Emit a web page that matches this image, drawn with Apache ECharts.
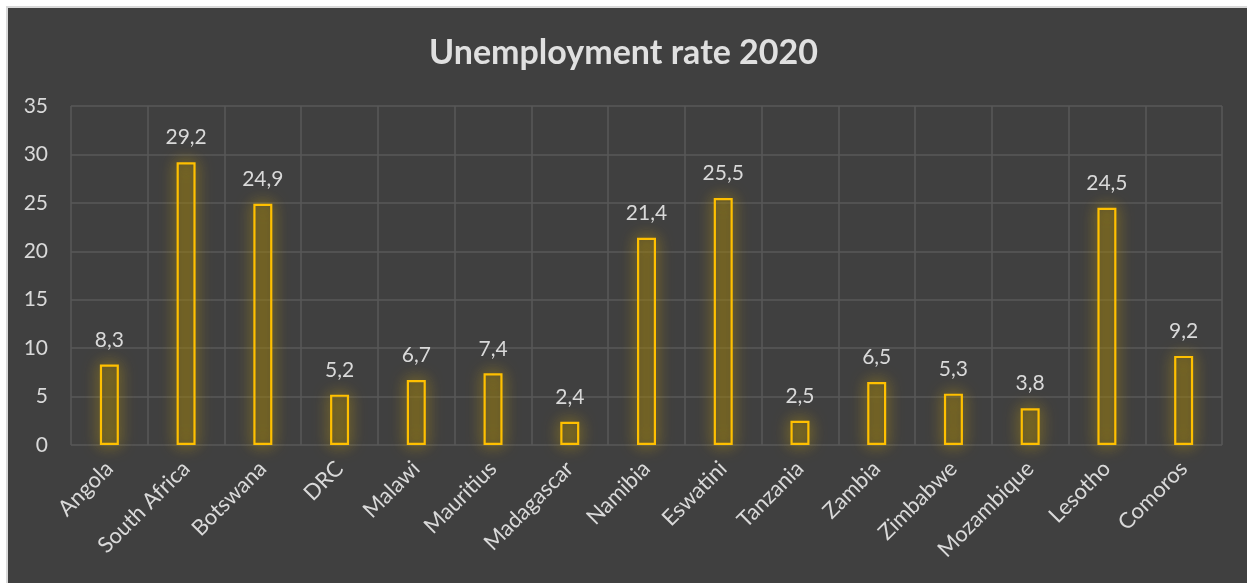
<!DOCTYPE html>
<html>
<head>
<meta charset="utf-8">
<script src="https://cdn.jsdelivr.net/npm/echarts@6/dist/echarts.min.js"></script>
<style>
html,body{margin:0;padding:0;background:#ffffff;}
#c{width:1247px;height:583px;}
</style>
</head>
<body>
<div id="c"></div>
<script>
const categories = ['Angola','South Africa','Botswana','DRC','Malawi','Mauritius','Madagascar','Namibia','Eswatini','Tanzania','Zambia','Zimbabwe','Mozambique','Lesotho','Comoros'];
const unemployment = [8.3, 29.2, 24.9, 5.2, 6.7, 7.4, 2.4, 21.4, 25.5, 2.5, 6.5, 5.3, 3.8, 24.5, 9.2];
const titleText = 'Unemployment rate 2020';

const chart = echarts.init(document.getElementById('c'), null, {renderer:'canvas'});
const font = 'Lato, "Open Sans", sans-serif';
chart.setOption({
  backgroundColor: 'transparent',
  animation: false,
  graphic: [{
    type: 'rect', z: -10, silent: true,
    shape: {x: 7, y: 7, width: 1260, height: 600},
    style: {fill: '#404040', stroke: '#d9d9d9', lineWidth: 2}
  }],
  title: {
    text: titleText, left: 'center', top: 31,
    textStyle: {color: '#e0e0e0', fontSize: 34, fontWeight: 'bold', fontFamily: font}
  },
  grid: {left: 71, right: 25, top: 106, bottom: 138},
  xAxis: {
    type: 'category', data: categories,
    axisLine: {show: false}, axisTick: {show: false},
    splitLine: {show: true, lineStyle: {color: '#595959', width: 1.5}},
    axisLabel: {rotate: 45, color: '#d9d9d9', fontSize: 22, fontFamily: font, margin: 20, interval: 0}
  },
  yAxis: {
    type: 'value', min: 0, max: 35, interval: 5,
    axisLine: {show: false}, axisTick: {show: false},
    splitLine: {lineStyle: {color: '#595959', width: 1.5}},
    axisLabel: {color: '#d9d9d9', fontSize: 21, fontFamily: font, margin: 23}
  },
  series: [{
    type: 'bar', data: unemployment, barWidth: 19,
    itemStyle: {
      color: 'rgba(120,100,20,0.3)', borderColor: '#FFC000', borderWidth: 2.2,
      shadowColor: 'rgba(220,175,0,0.85)', shadowBlur: 16
    },
    label: {
      show: true, position: 'top', distance: 14,
      color: '#d9d9d9', fontSize: 21, fontFamily: font,
      formatter: p => String(p.value).replace('.', ',')
    }
  }]
});
</script>
</body>
</html>
